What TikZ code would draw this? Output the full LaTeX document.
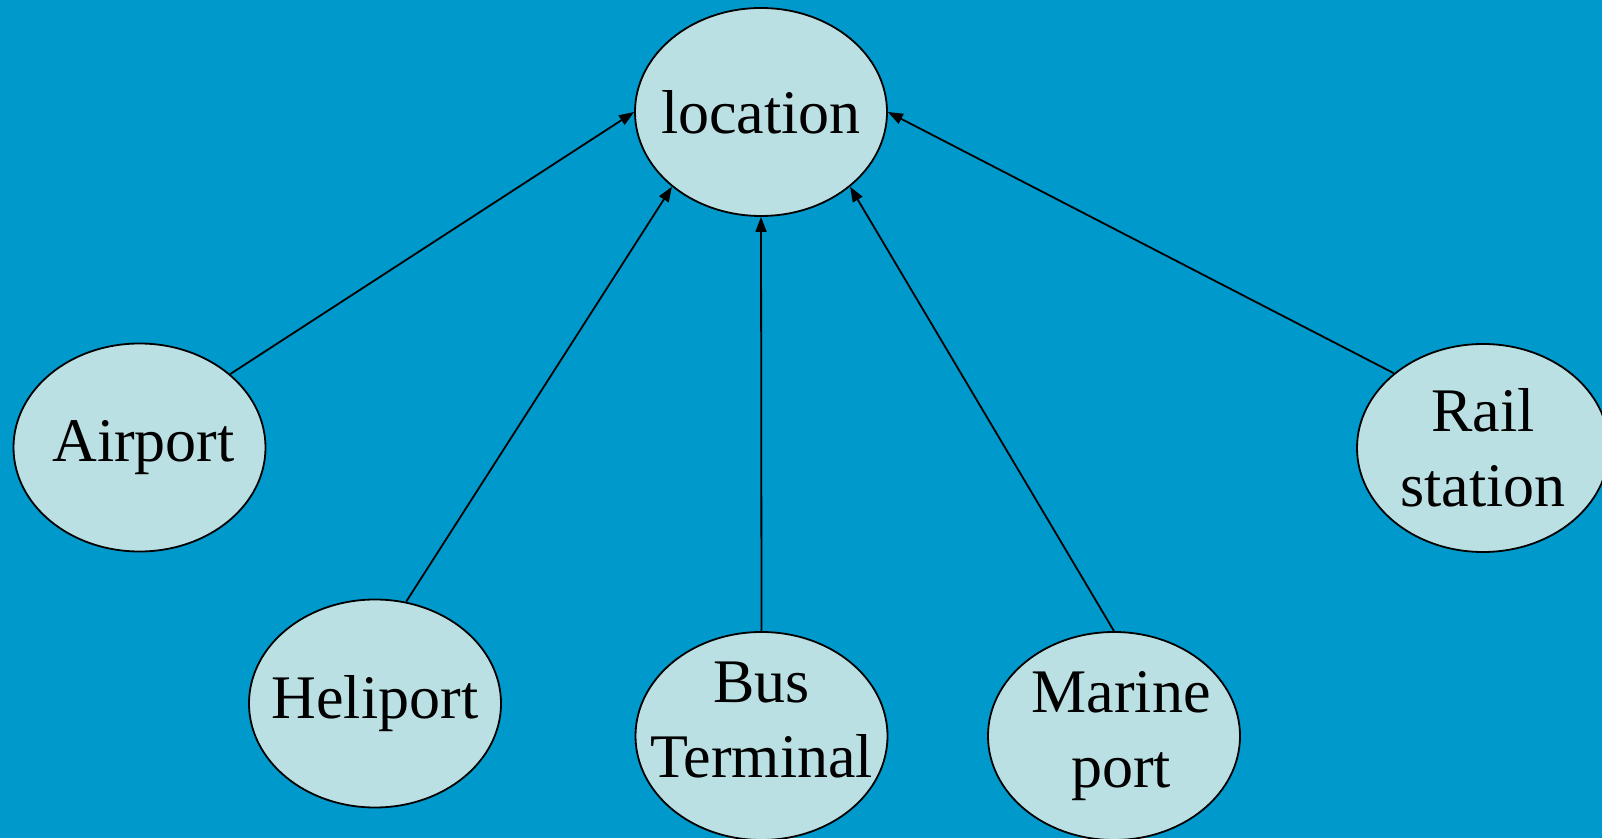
\documentclass[tikz,border=0pt]{standalone}
\usepackage{fontspec}
\setmainfont{Liberation Serif}
\usetikzlibrary{arrows.meta,shapes.geometric}
\definecolor{bgblue}{HTML}{0099CC}
\definecolor{nodefill}{HTML}{BBE0E3}
\tikzset{
  place/.style={ellipse, draw=black, line width=1.8pt, fill=nodefill,
    minimum width=252pt, minimum height=208pt, inner sep=0pt},
  txt/.style={align=center, font=\fontsize{62}{75}\selectfont, inner sep=0pt},
  link/.style={line width=1.8pt, -{Triangle[length=15pt,width=11pt]}}
}
\begin{document}
\begin{tikzpicture}[x=1pt,y=1pt]
\useasboundingbox (0,0) rectangle (1602,838);
\fill[bgblue] (0,0) rectangle (1602,838);
\node[place, label={[txt, name=loctext]center:location}] (loc) at (761,726) {};
\node[place, label={[txt, name=airtext, xshift=4pt]center:Airport}] (air) at (139.5,390.5) {};
\node[place, label={[txt, name=helitext]center:Heliport}] (heli) at (375,134.5) {};
\node[place, label={[txt, name=bustext, yshift=16pt]center:Bus\\Terminal}] (bus) at (761.5,102) {};
\node[place, label={[txt, name=marinetext, xshift=7pt]center:Marine\\port}] (marine) at (1114,102) {};
\node[place, label={[txt, name=railtext]center:Rail\\station}] (rail) at (1483,390) {};
\draw[link] (air.39) -- (loc.west);
\draw[link] (heli.73) -- (loc.220);
\draw[link] (bus.north) -- (loc.south);
\draw[link] (marine.north) -- (loc.320);
\draw[link] (rail.140) -- (loc.east);
\end{tikzpicture}
\end{document}
